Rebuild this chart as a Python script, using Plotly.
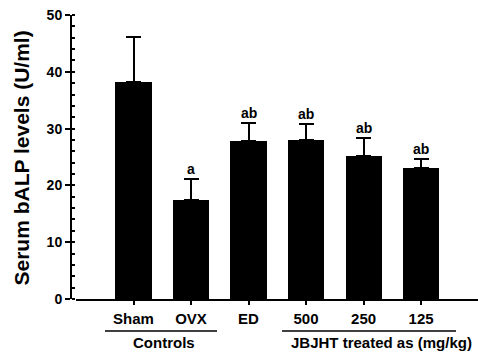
import plotly.graph_objects as go

categories = ["Sham", "OVX", "ED", "500", "250", "125"]
means = [38.2, 17.5, 27.8, 28.0, 25.1, 23.1]
errors = [7.9, 3.6, 3.1, 2.8, 3.2, 1.6]
letters = ["", "a", "ab", "ab", "ab", "ab"]
y_ticks = [0, 10, 20, 30, 40, 50]
group_labels = ["Controls", "JBJHT treated as (mg/kg)"]
y_title = "Serum bALP levels (U/ml)"

FONT = "Arial, 'Liberation Sans', sans-serif"
W, H = 478, 355
ML, MR, MT, MB = 71, 0, 15, 56
PW = W - ML - MR
PH = H - MT - MB

def px_x(p):
    return (p - ML) / PW

def px_y(p):
    return (H - MB - p) / PH

fig = go.Figure()
fig.add_trace(go.Bar(
    x=categories, y=means,
    width=0.628,
    marker=dict(color="black", line=dict(width=0)),
    error_y=dict(type="data", array=errors, arrayminus=[0] * len(errors),
                 symmetric=False, color="black", thickness=2, width=7.5),
    showlegend=False,
))

for i, (m, e, t) in enumerate(zip(means, errors, letters)):
    if t:
        fig.add_annotation(x=i, y=m + e, xref="x", yref="y", text=t,
                           showarrow=False, yanchor="middle", yshift=10,
                           font=dict(family=FONT, size=14, color="black", weight="bold"))

# group brackets
fig.add_shape(type="line", xref="paper", yref="paper",
              x0=px_x(105), x1=px_x(217), y0=px_y(331), y1=px_y(331),
              line=dict(color="black", width=1.5))
fig.add_shape(type="line", xref="paper", yref="paper",
              x0=px_x(282), x1=px_x(456), y0=px_y(331), y1=px_y(331),
              line=dict(color="black", width=1.5))
fig.add_annotation(x=px_x(164), y=px_y(342.5), xref="paper", yref="paper",
                   text=group_labels[0], showarrow=False, xanchor="center", yanchor="middle",
                   font=dict(family=FONT, size=15, color="black", weight="bold"))
fig.add_annotation(x=px_x(381), y=px_y(342.5), xref="paper", yref="paper",
                   text=group_labels[1], showarrow=False, xanchor="center", yanchor="middle",
                   font=dict(family=FONT, size=15, color="black", weight="bold"))

# y title
fig.add_annotation(x=px_x(20.5), y=px_y(158), xref="paper", yref="paper",
                   text=y_title, showarrow=False, textangle=-90,
                   xanchor="center", yanchor="middle",
                   font=dict(family=FONT, size=21, color="black", weight="bold"))

fig.update_layout(
    width=W, height=H,
    margin=dict(l=ML, r=MR, t=MT, b=MB),
    paper_bgcolor="white", plot_bgcolor="white",
    bargap=0.0,
    xaxis=dict(
        type="category", range=[-1.0, 5.99],
        domain=[px_x(76), 1],
        showline=True, linecolor="black", linewidth=2,
        ticks="outside", ticklen=4, tickwidth=2, tickcolor="black",
        tickfont=dict(family=FONT, size=15, color="black", weight="bold"),
        ticklabelstandoff=1,
        showgrid=False, zeroline=False,
    ),
    yaxis=dict(
        range=[0, 50], anchor="free", position=0,
        tickvals=y_ticks,
        showline=True, linecolor="black", linewidth=2,
        ticks="outside", ticklen=5, tickwidth=2, tickcolor="black",
        minor=dict(dtick=2, ticks="inside", ticklen=3, tickwidth=2, tickcolor="black"),
        tickfont=dict(family=FONT, size=14, color="black", weight="bold"),
        showgrid=False, zeroline=False,
    ),
)

fig.write_html("out.html")
